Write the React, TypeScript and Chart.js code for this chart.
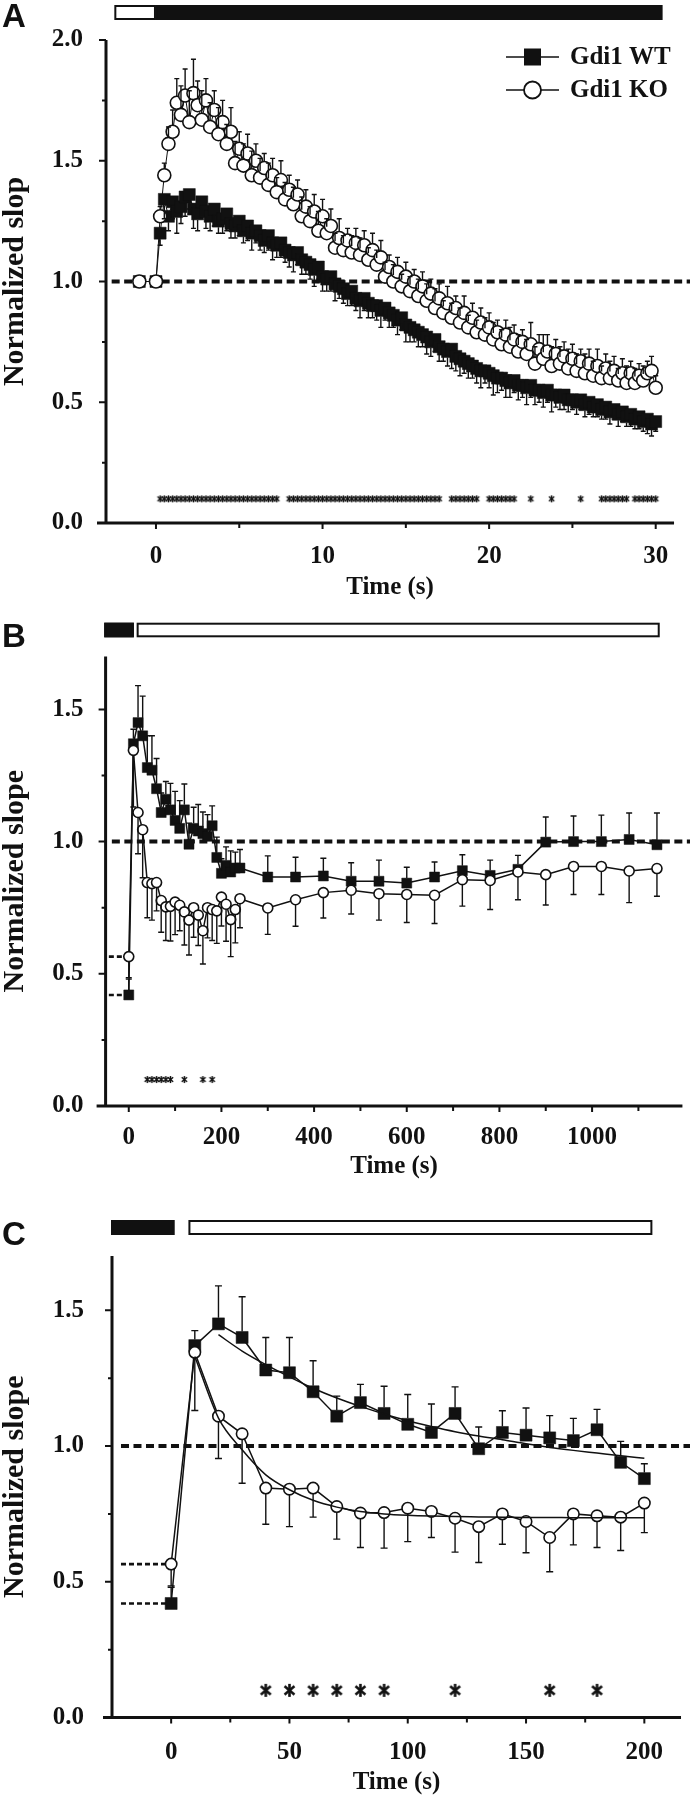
import React, { useEffect, useRef } from "react";
import { Chart, registerables } from "chart.js";

Chart.register(...registerables);

const SERIF = '"Liberation Serif", "Times New Roman", Times, serif';
const SANS = '"Liberation Sans", Arial, Helvetica, sans-serif';
const INK = "#111111";

// ---------------- Panel A data (time in s) ----------------
const timesA = [
  -1, 0,
  0.25, 0.5, 0.75, 1, 1.25, 1.5, 1.75, 2,
  2.25, 2.5, 2.75, 3, 3.25, 3.5, 3.75, 4,
  4.25, 4.5, 4.75, 5, 5.25, 5.5, 5.75, 6,
  6.25, 6.5, 6.75, 7, 7.25, 7.5, 7.75, 8,
  8.25, 8.5, 8.75, 9, 9.25, 9.5, 9.75, 10,
  10.25, 10.5, 10.75, 11, 11.25, 11.5, 11.75, 12,
  12.25, 12.5, 12.75, 13, 13.25, 13.5, 13.75, 14,
  14.25, 14.5, 14.75, 15, 15.25, 15.5, 15.75, 16,
  16.25, 16.5, 16.75, 17, 17.25, 17.5, 17.75, 18,
  18.25, 18.5, 18.75, 19, 19.25, 19.5, 19.75, 20,
  20.25, 20.5, 20.75, 21, 21.25, 21.5, 21.75, 22,
  22.25, 22.5, 22.75, 23, 23.25, 23.5, 23.75, 24,
  24.25, 24.5, 24.75, 25, 25.25, 25.5, 25.75, 26,
  26.25, 26.5, 26.75, 27, 27.25, 27.5, 27.75, 28,
  28.25, 28.5, 28.75, 29, 29.25, 29.5, 29.75, 30,
];

const wtA = [
  1.0, 1.0,
  1.20, 1.34, 1.27, 1.33, 1.29, 1.31, 1.35, 1.36,
  1.30, 1.28, 1.33, 1.29, 1.27, 1.30, 1.25, 1.26,
  1.28, 1.24, 1.23, 1.25, 1.21, 1.23, 1.20, 1.21,
  1.19, 1.17, 1.19, 1.16, 1.15, 1.16, 1.13, 1.12,
  1.11, 1.12, 1.09, 1.08, 1.07, 1.05, 1.06, 1.02,
  1.01, 1.02, 0.99, 0.98, 0.97, 0.95, 0.96, 0.93,
  0.92, 0.93, 0.91, 0.90, 0.90, 0.88, 0.89, 0.87,
  0.86, 0.84, 0.85, 0.82, 0.81, 0.80, 0.79, 0.78,
  0.77, 0.75, 0.76, 0.73, 0.72, 0.71, 0.72, 0.69,
  0.68, 0.67, 0.66, 0.65, 0.64, 0.63, 0.63, 0.62,
  0.61, 0.60, 0.60, 0.59, 0.58, 0.59, 0.57, 0.57,
  0.56, 0.57, 0.55, 0.55, 0.54, 0.55, 0.53, 0.53,
  0.52, 0.53, 0.51, 0.51, 0.50, 0.51, 0.49, 0.50,
  0.48, 0.49, 0.47, 0.48, 0.46, 0.47, 0.45, 0.46,
  0.44, 0.45, 0.43, 0.44, 0.42, 0.43, 0.41, 0.42,
];

const wtErrA = [
  0, 0,
  0.05, 0.08, 0.06, 0.07, 0.09, 0.07, 0.08, 0.06,
  0.08, 0.07, 0.06, 0.07, 0.06, 0.07, 0.05, 0.06,
  0.07, 0.06, 0.05, 0.06, 0.05, 0.06, 0.07, 0.05,
  0.06, 0.05, 0.06, 0.07, 0.05, 0.06, 0.05, 0.06,
  0.07, 0.05, 0.06, 0.05, 0.06, 0.07, 0.05, 0.06,
  0.05, 0.06, 0.07, 0.05, 0.06, 0.05, 0.06, 0.05,
  0.07, 0.05, 0.06, 0.05, 0.06, 0.07, 0.05, 0.06,
  0.05, 0.06, 0.05, 0.07, 0.06, 0.05, 0.06, 0.05,
  0.07, 0.06, 0.05, 0.06, 0.05, 0.06, 0.08, 0.06,
  0.07, 0.05, 0.06, 0.05, 0.06, 0.07, 0.05, 0.06,
  0.08, 0.06, 0.05, 0.07, 0.06, 0.05, 0.06, 0.05,
  0.07, 0.05, 0.06, 0.05, 0.06, 0.05, 0.07, 0.05,
  0.05, 0.06, 0.05, 0.04, 0.05, 0.04, 0.05, 0.05,
  0.04, 0.05, 0.04, 0.05, 0.05, 0.04, 0.05, 0.04,
  0.04, 0.05, 0.04, 0.05, 0.04, 0.06, 0.05, 0.04,
];

const koA = [
  1.0, 1.0,
  1.27, 1.44, 1.57, 1.62, 1.74, 1.69, 1.77, 1.66,
  1.78, 1.73, 1.67, 1.75, 1.64, 1.71, 1.61, 1.66,
  1.57, 1.62, 1.49, 1.55, 1.48, 1.53, 1.44, 1.50,
  1.43, 1.47, 1.40, 1.44, 1.37, 1.42, 1.34, 1.38,
  1.32, 1.36, 1.27, 1.31, 1.25, 1.29, 1.21, 1.27,
  1.20, 1.23, 1.14, 1.18, 1.13, 1.17, 1.12, 1.16,
  1.11, 1.15, 1.09, 1.13, 1.07, 1.10, 1.02, 1.06,
  1.00, 1.04, 0.98, 1.02, 0.96, 1.00, 0.94, 0.98,
  0.92, 0.95, 0.89, 0.93, 0.87, 0.91, 0.85, 0.89,
  0.83, 0.87, 0.81, 0.85, 0.79, 0.83, 0.78, 0.81,
  0.76, 0.79, 0.74, 0.78, 0.73, 0.76, 0.71, 0.75,
  0.70, 0.74, 0.66, 0.72, 0.68, 0.71, 0.65, 0.70,
  0.66, 0.69, 0.64, 0.68, 0.63, 0.67, 0.62, 0.66,
  0.61, 0.65, 0.60, 0.64, 0.60, 0.63, 0.59, 0.62,
  0.58, 0.62, 0.58, 0.61, 0.59, 0.62, 0.63, 0.56,
];

const koErrA = [
  0, 0,
  0.04, 0.05, 0.07, 0.09, 0.10, 0.12, 0.11, 0.13,
  0.14, 0.10, 0.12, 0.09, 0.10, 0.08, 0.11, 0.09,
  0.08, 0.10, 0.09, 0.07, 0.09, 0.08, 0.10, 0.07,
  0.08, 0.06, 0.09, 0.07, 0.06, 0.08, 0.07, 0.06,
  0.07, 0.06, 0.08, 0.07, 0.06, 0.07, 0.08, 0.07,
  0.06, 0.07, 0.06, 0.08, 0.06, 0.05, 0.07, 0.06,
  0.07, 0.06, 0.05, 0.07, 0.06, 0.07, 0.06, 0.05,
  0.07, 0.06, 0.05, 0.06, 0.06, 0.05, 0.07, 0.06,
  0.07, 0.06, 0.08, 0.06, 0.05, 0.07, 0.06, 0.05,
  0.06, 0.07, 0.05, 0.06, 0.05, 0.06, 0.07, 0.06,
  0.07, 0.05, 0.06, 0.06, 0.08, 0.06, 0.07, 0.05,
  0.06, 0.09, 0.07, 0.06, 0.10, 0.07, 0.08, 0.06,
  0.07, 0.06, 0.08, 0.06, 0.07, 0.05, 0.08, 0.06,
  0.06, 0.07, 0.05, 0.06, 0.07, 0.06, 0.05, 0.06,
  0.07, 0.05, 0.06, 0.05, 0.06, 0.05, 0.06, 0.05,
];

// significant intervals (s) marked with asterisks
const sigRangesA = [
  [0.25, 7.25], [8, 17], [17.75, 19.25], [20, 21.5],
  [22.5, 22.5], [23.75, 23.75], [25.5, 25.5], [26.75, 28.25], [28.75, 30],
];

const xTicksA = [0, 10, 20, 30];
const xMinorA = [5, 15, 25];
const yTicksA = [0, 0.5, 1, 1.5, 2];
const yMinorA = [0.25, 0.75, 1.25, 1.75];
const barsA = [
  { from: -2.5, to: 0, fill: "#ffffff" },
  { from: 0, to: 30.4, fill: INK },
];

// ---------------- Panels B & C data (time in s) ----------------
const timesB = [
  0, 10, 20, 30, 40, 50, 60, 70, 80, 90, 100, 110, 120, 130, 140, 150, 160, 170, 180, 190, 200,
  210, 220, 230, 240, 300, 360, 420, 480, 540, 600, 660, 720, 780, 840, 900, 960, 1020, 1080, 1140,
];
const wtB = [
  0.42, 1.37, 1.45, 1.40, 1.28, 1.27, 1.20, 1.11, 1.16, 1.12, 1.08, 1.05, 1.12, 0.99, 1.05, 1.04, 1.03, 1.02, 1.06, 0.94, 0.88,
  0.91, 0.885, 0.90, 0.90, 0.866, 0.866, 0.87, 0.85, 0.85, 0.843, 0.866, 0.89, 0.872, 0.895, 0.998, 1.0, 1.0, 1.008, 0.988,
];
const wtErrB = [
  0.06, 0.055, 0.14, 0.15, 0.12, 0.13, 0.114, 0.074, 0.067, 0.10, 0.11, 0.105, 0.098, 0.08, 0.08, 0.10, 0.082, 0.082, 0.075, 0.077, 0.055,
  0.07, 0.08, 0.06, 0.07, 0.08, 0.075, 0.067, 0.07, 0.08, 0.06, 0.057, 0.06, 0.058, 0.053, 0.095, 0.097, 0.10, 0.10, 0.12,
];
const koB = [
  0.565, 1.345, 1.11, 1.045, 0.845, 0.841, 0.845, 0.777, 0.753, 0.755, 0.771, 0.759, 0.734, 0.703, 0.75, 0.722, 0.663, 0.75, 0.743, 0.738, 0.79,
  0.763, 0.705, 0.743, 0.784, 0.749, 0.78, 0.807, 0.816, 0.803, 0.80, 0.797, 0.856, 0.853, 0.885, 0.875, 0.906, 0.906, 0.889, 0.898,
];
const koErrB = [
  0.08, 0.214, 0.156, 0.182, 0.133, 0.138, 0.107, 0.12, 0.127, 0.131, 0.123, 0.096, 0.125, 0.132, 0.112, 0.115, 0.126, 0.114, 0.117, 0.123, 0.109,
  0.14, 0.14, 0.126, 0.11, 0.10, 0.10, 0.096, 0.09, 0.10, 0.106, 0.107, 0.10, 0.11, 0.105, 0.115, 0.106, 0.106, 0.12, 0.105,
];
const sigTimesB = [40, 50, 60, 70, 80, 90, 120, 160, 180];

const xTicksB = [0, 200, 400, 600, 800, 1000];
const xMinorB = [100, 300, 500, 700, 900, 1100];
const yTicksBC = [0, 0.5, 1, 1.5];
const yMinorBC = [0.25, 0.75, 1.25];
const barsB = [
  { from: -53, to: 11, fill: INK },
  { from: 17, to: 1146, fill: "#ffffff" },
];

const xTicksC = [0, 50, 100, 150, 200];
const xMinorC = [25, 75, 125, 175];
const barsC = [
  { from: -25.4, to: 1.4, fill: INK },
  { from: 7.3, to: 203.4, fill: "#ffffff" },
];
const fitWtT = [20, 30, 40, 50, 60, 70, 80, 90, 100, 110, 120, 130, 140, 150, 160, 170, 180, 190, 200];
const fitWtV = [1.41, 1.35, 1.30, 1.255, 1.213, 1.177, 1.146, 1.118, 1.093, 1.072, 1.053, 1.037, 1.023, 1.008, 0.995, 0.984, 0.974, 0.964, 0.955];
const fitKoT = [10, 20, 30, 40, 50, 60, 70, 80, 90, 100, 110, 120, 130, 140, 150, 160, 170, 180, 190, 200];
const fitKoV = [1.33, 1.103, 0.986, 0.894, 0.839, 0.80, 0.775, 0.759, 0.75, 0.745, 0.742, 0.74, 0.739, 0.738, 0.737, 0.737, 0.736, 0.736, 0.736, 0.736];
const cEnd = 200;

const starLevel = 0.1;
const refLevel = 1.0;
const labelWT = "Gdi1 WT";
const labelKO = "Gdi1 KO";

// ---------------- helpers ----------------
const pts = (ts: number[], vs: number[]) => ts.map((t, i) => ({ x: t, y: vs[i] }));

function makeStar(size: number, lw: number): HTMLCanvasElement {
  const pad = Math.ceil(lw) + 1;
  const s = Math.ceil(size) + pad * 2;
  const c = document.createElement("canvas");
  c.width = s;
  c.height = s;
  const g = c.getContext("2d")!;
  g.strokeStyle = INK;
  g.lineWidth = lw;
  const cx = s / 2, cy = s / 2, r = size / 2;
  [90, 40, 140].forEach((deg) => {
    const a = (deg * Math.PI) / 180;
    g.beginPath();
    g.moveTo(cx - r * Math.cos(a), cy - r * Math.sin(a));
    g.lineTo(cx + r * Math.cos(a), cy + r * Math.sin(a));
    g.stroke();
  });
  return c;
}

function circleDS(label: string, data: any[], errs: number[], dir: number, r: number, lw: number, cap: number) {
  return {
    label, data, errs, errDir: dir, errEdge: r, errCap: cap, errLw: 1.4,
    borderColor: INK, borderWidth: lw, tension: 0, fill: false,
    pointStyle: "circle", pointRadius: r, pointBackgroundColor: "#ffffff",
    pointBorderColor: INK, pointBorderWidth: 1.6, clip: false,
  };
}
function squareDS(label: string, data: any[], errs: number[], dir: number, side: number, lw: number, cap: number) {
  return {
    label, data, errs, errDir: dir, errEdge: side / 2, errCap: cap, errLw: 1.4,
    borderColor: INK, borderWidth: lw, tension: 0, fill: false,
    pointStyle: "rect", pointRadius: side / 2 / Math.SQRT1_2, pointBackgroundColor: INK,
    pointBorderColor: INK, pointBorderWidth: 0.5, clip: false,
  };
}
function starDS(times: number[], img: HTMLCanvasElement) {
  return {
    label: "sig", data: times.map((t) => ({ x: t, y: starLevel })), showLine: false,
    pointStyle: img, pointRadius: 4, clip: false,
  };
}
function fitDS(ts: number[], vs: number[]) {
  return {
    label: "fit", data: pts(ts, vs), borderColor: INK, borderWidth: 1.5, pointRadius: 0,
    cubicInterpolationMode: "monotone", fill: false, clip: false,
  };
}

function makeDeco(cfg: any) {
  return {
    id: "deco",
    beforeDatasetsDraw(chart: any) {
      const { ctx } = chart;
      const xs = chart.scales.x, ys = chart.scales.y;
      ctx.save();
      ctx.strokeStyle = INK;
      ctx.lineWidth = 4;
      ctx.setLineDash([8, 4.5]);
      const yr = ys.getPixelForValue(refLevel);
      ctx.beginPath();
      ctx.moveTo(xs.getPixelForValue(cfg.refStart), yr);
      ctx.lineTo(chart.width, yr);
      ctx.stroke();
      if (cfg.stubs) {
        ctx.lineWidth = 2.6;
        ctx.setLineDash([5, 3]);
        cfg.stubs.forEach((s: any) => {
          const y = ys.getPixelForValue(s.value);
          ctx.beginPath();
          ctx.moveTo(xs.getPixelForValue(s.from), y);
          ctx.lineTo(xs.getPixelForValue(0), y);
          ctx.stroke();
        });
      }
      ctx.restore();
    },
    afterDatasetsDraw(chart: any) {
      const { ctx } = chart;
      const xs = chart.scales.x, ys = chart.scales.y;
      ctx.save();
      ctx.strokeStyle = INK;
      ctx.setLineDash([]);
      chart.data.datasets.forEach((ds: any) => {
        if (!ds.errs) return;
        ctx.lineWidth = ds.errLw;
        ds.data.forEach((p: any, i: number) => {
          const e = ds.errs[i];
          if (!e) return;
          const x = xs.getPixelForValue(p.x);
          const y0 = ys.getPixelForValue(p.y);
          const y1 = ys.getPixelForValue(p.y + ds.errDir * e);
          const d = y1 < y0 ? -1 : 1;
          const ys0 = y0 + d * ds.errEdge;
          if ((y1 - ys0) * d <= 0) return;
          ctx.beginPath();
          ctx.moveTo(x, ys0);
          ctx.lineTo(x, y1);
          ctx.moveTo(x - ds.errCap, y1);
          ctx.lineTo(x + ds.errCap, y1);
          ctx.stroke();
        });
      });
      ctx.restore();
    },
    afterDraw(chart: any) {
      const { ctx, chartArea: ca } = chart;
      const xs = chart.scales.x, ys = chart.scales.y;
      ctx.save();
      ctx.strokeStyle = INK;
      ctx.setLineDash([]);
      // axes
      ctx.lineWidth = 3;
      ctx.beginPath();
      ctx.moveTo(ca.left, ca.top);
      ctx.lineTo(ca.left, ca.bottom + 1.5);
      ctx.moveTo(ca.left - 9, ca.bottom);
      ctx.lineTo(ca.right, ca.bottom);
      ctx.stroke();
      ctx.lineWidth = 2;
      ctx.beginPath();
      cfg.yMajor.forEach((v: number) => {
        const y = ys.getPixelForValue(v);
        ctx.moveTo(ca.left - 7, y);
        ctx.lineTo(ca.left, y);
      });
      cfg.yMinor.forEach((v: number) => {
        const y = ys.getPixelForValue(v);
        ctx.moveTo(ca.left - 4, y);
        ctx.lineTo(ca.left, y);
      });
      cfg.xMajor.forEach((v: number) => {
        const x = xs.getPixelForValue(v);
        ctx.moveTo(x, ca.bottom);
        ctx.lineTo(x, ca.bottom + 6);
      });
      cfg.xMinor.forEach((v: number) => {
        const x = xs.getPixelForValue(v);
        ctx.moveTo(x, ca.bottom);
        ctx.lineTo(x, ca.bottom + 5);
      });
      ctx.stroke();
      // stimulus bars
      cfg.bars.forEach((b: any) => {
        const x0 = xs.getPixelForValue(b.from);
        const x1 = xs.getPixelForValue(b.to);
        ctx.fillStyle = b.fill;
        ctx.fillRect(x0, cfg.barY, x1 - x0, cfg.barH);
        ctx.lineWidth = 2;
        ctx.strokeRect(x0 + 1, cfg.barY + 1, x1 - x0 - 2, cfg.barH - 2);
      });
      // panel letter
      ctx.fillStyle = INK;
      ctx.font = `bold 33px ${SANS}`;
      ctx.textAlign = "left";
      ctx.textBaseline = "alphabetic";
      ctx.fillText(cfg.letter, 2, cfg.letterY);
      // legend
      if (cfg.legend) {
        cfg.legend.forEach((it: any) => {
          ctx.strokeStyle = INK;
          ctx.lineWidth = 1.5;
          ctx.beginPath();
          ctx.moveTo(506, it.y);
          ctx.lineTo(559, it.y);
          ctx.stroke();
          if (it.shape === "rect") {
            ctx.fillStyle = INK;
            ctx.fillRect(532.5 - 8.5, it.y - 8.5, 17, 17);
          } else {
            ctx.fillStyle = "#ffffff";
            ctx.beginPath();
            ctx.arc(532.5, it.y, 8.5, 0, Math.PI * 2);
            ctx.fill();
            ctx.lineWidth = 1.8;
            ctx.stroke();
          }
          ctx.fillStyle = INK;
          ctx.font = `bold 25px ${SERIF}`;
          ctx.textAlign = "left";
          ctx.textBaseline = "middle";
          ctx.fillText(it.label, 570, it.y + 1);
        });
      }
      ctx.restore();
    },
  };
}

function buildPanel(id: string) {
  if (id === "A") {
    const star = makeStar(7, 1.5);
    const sig = timesA.filter((t) => sigRangesA.some(([a, b]) => t >= a - 1e-9 && t <= b + 1e-9));
    return {
      top: 0, height: 600, areaTop: 40, xAxisH: 77, yAxisW: 106, padRight: 0,
      xMin: -3, xMax: 31.1, yMax: 2, xMajor: xTicksA, yMajor: yTicksA,
      xTickPad: 21.5, xTitlePadB: 0, yTickPad: 23, yTitle: "Normalized slop",
      datasets: [
        circleDS(labelKO, pts(timesA, koA), koErrA, 1, 6.5, 1, 2.5),
        squareDS(labelWT, pts(timesA, wtA), wtErrA, -1, 12, 1, 2.5),
        starDS(sig, star),
      ],
      deco: {
        xMajor: xTicksA, xMinor: xMinorA, yMajor: yTicksA, yMinor: yMinorA,
        refStart: -2.66, bars: barsA, barY: 5, barH: 15, letter: "A", letterY: 27,
        legend: [
          { label: labelWT, shape: "rect", y: 57 },
          { label: labelKO, shape: "circle", y: 90 },
        ],
      },
    };
  }
  if (id === "B") {
    const star = makeStar(7, 1.5);
    return {
      top: 600, height: 600, areaTop: 56.5, xAxisH: 94, yAxisW: 105.6, padRight: 4,
      xMin: -50, xMax: 1195, yMax: 1.7, xMajor: xTicksB, yMajor: yTicksBC,
      xTickPad: 19.5, xTitlePadB: 20.5, yTickPad: 22, yTitle: "Normalized slope",
      datasets: [
        circleDS(labelKO, pts(timesB, koB), koErrB, -1, 5, 1.5, 3),
        squareDS(labelWT, pts(timesB, wtB), wtErrB, 1, 10, 1.5, 3),
        starDS(sigTimesB, star),
      ],
      deco: {
        xMajor: xTicksB, xMinor: xMinorB, yMajor: yTicksBC, yMinor: yMinorBC,
        refStart: -36.5, bars: barsB, barY: 22.7, barH: 14.6, letter: "B", letterY: 46.5,
        stubs: [{ from: -43, value: wtB[0] }, { from: -43, value: koB[0] }],
      },
    };
  }
  const star = makeStar(13, 2.6);
  const tC = timesB.filter((t) => t <= cEnd);
  const n = tC.length;
  return {
    top: 1200, height: 600, areaTop: 56, xAxisH: 82.5, yAxisW: 112, padRight: 4,
    xMin: -25, xMax: 215.5, yMax: 1.7, xMajor: xTicksC, yMajor: yTicksBC,
    xTickPad: 23, xTitlePadB: 4.5, yTickPad: 28, yTitle: "Normalized slope",
    datasets: [
      fitDS(fitKoT, fitKoV),
      fitDS(fitWtT, fitWtV),
      circleDS(labelKO, pts(tC, koB.slice(0, n)), koErrB.slice(0, n), -1, 5.7, 1.5, 3.5),
      squareDS(labelWT, pts(tC, wtB.slice(0, n)), wtErrB.slice(0, n), 1, 12, 1.5, 3.5),
      starDS(sigTimesB, star),
    ],
    deco: {
      xMajor: xTicksC, xMinor: xMinorC, yMajor: yTicksBC, yMinor: yMinorBC,
      refStart: -21.2, bars: barsC, barY: 20, barH: 15, letter: "C", letterY: 45,
      stubs: [{ from: -21.2, value: wtB[0] }, { from: -21.2, value: koB[0] }],
    },
  };
}

function Panel({ id }: { id: string }) {
  const ref = useRef<HTMLCanvasElement | null>(null);
  const p0 = { A: { top: 0 }, B: { top: 600 }, C: { top: 1200 } } as any;
  useEffect(() => {
    const p: any = buildPanel(id);
    const tickFont = { family: SERIF, size: 25, weight: "bold" as const, lineHeight: 1 };
    const chart = new Chart(ref.current as HTMLCanvasElement, {
      type: "line",
      data: { datasets: p.datasets },
      options: {
        responsive: false,
        animation: false,
        devicePixelRatio: 1,
        events: [],
        layout: { padding: { left: 0, right: p.padRight, top: p.areaTop, bottom: 0 } },
        plugins: { legend: { display: false }, tooltip: { enabled: false }, title: { display: false } },
        scales: {
          x: {
            type: "linear", min: p.xMin, max: p.xMax,
            grid: { display: false, drawTicks: false },
            border: { display: false },
            afterBuildTicks: (s: any) => { s.ticks = p.xMajor.map((v: number) => ({ value: v })); },
            afterFit: (s: any) => { s.height = p.xAxisH; },
            ticks: {
              autoSkip: false, maxRotation: 0, minRotation: 0, padding: p.xTickPad,
              color: INK, font: tickFont, callback: (v: any) => String(v),
            },
            title: {
              display: true, text: "Time (s)", color: INK, font: tickFont,
              padding: { top: 0, bottom: p.xTitlePadB },
            },
          },
          y: {
            type: "linear", min: 0, max: p.yMax,
            grid: { display: false, drawTicks: false },
            border: { display: false },
            afterBuildTicks: (s: any) => { s.ticks = p.yMajor.map((v: number) => ({ value: v })); },
            afterFit: (s: any) => { s.width = p.yAxisW; },
            ticks: {
              autoSkip: false, padding: p.yTickPad, color: INK, font: tickFont,
              callback: (v: any) => Number(v).toFixed(1),
            },
            title: {
              display: true, text: p.yTitle, color: INK,
              font: { family: SERIF, size: 30, weight: "bold" as const, lineHeight: 1 },
              padding: { top: 0, bottom: 0 },
            },
          },
        },
      } as any,
      plugins: [makeDeco(p.deco)],
    });
    return () => chart.destroy();
  }, [id]);
  return (
    <canvas
      ref={ref}
      width={690}
      height={600}
      style={{ position: "absolute", left: 0, top: p0[id].top, width: 690, height: 600, display: "block" }}
    />
  );
}

export default function App() {
  return (
    <div style={{ position: "absolute", left: 0, top: 0, width: 690, height: 1800, background: "#ffffff" }}>
      <Panel id="A" />
      <Panel id="B" />
      <Panel id="C" />
    </div>
  );
}
